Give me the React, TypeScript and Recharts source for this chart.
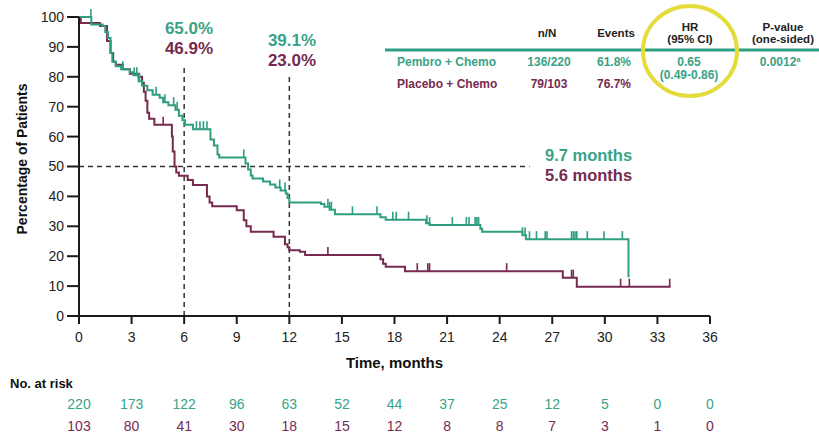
import React from 'react';
import { ComposedChart, Line, Scatter, XAxis, YAxis, ReferenceLine } from 'recharts';

const GREEN = '#2f9e80';
const GREEN_TEXT = '#38a386';
const MAROON = '#762a50';
const FONT = "'Liberation Sans', Arial, Helvetica, sans-serif";
const NARROW = "'Liberation Sans Narrow', 'Arial Narrow', 'Liberation Sans', Arial, sans-serif";

const xTicks = [0, 3, 6, 9, 12, 15, 18, 21, 24, 27, 30, 33, 36];
const yTicks = [0, 10, 20, 30, 40, 50, 60, 70, 80, 90, 100];

const pembroTime = [0, 0.7, 1.35, 1.5, 1.65, 1.8, 1.9, 2.1, 2.4, 2.9, 3.1, 3.4, 3.6, 3.9, 4.2, 4.6, 4.8, 5.1, 5.5, 5.7, 5.9, 6.05, 6.5, 7.5, 7.7, 7.9, 8.0, 9.5, 9.65, 9.8, 9.9, 10.5, 10.9, 11.2, 11.5, 11.8, 11.9, 12.0, 13.8, 14.0, 14.3, 14.6, 17.2, 17.5, 19.8, 20.0, 22.9, 23.0, 25.3, 25.5, 31.35];
const pembroSurv = [100, 97.5, 97, 95, 93, 88, 85, 83.5, 82.5, 81.5, 80.5, 78.5, 77, 75.5, 74, 73, 71.5, 70.5, 69, 67, 65.5, 64, 62.5, 59, 57, 54, 53, 51, 49, 47, 46, 45, 44, 43, 42, 41, 39.5, 38, 37.5, 36.5, 35.5, 34, 33, 32.2, 31, 30.4, 29.2, 28.2, 27, 25.7, 13];

const placeboTime = [0, 0.1, 1.2, 1.6, 1.8, 1.95, 2.1, 2.5, 2.9, 3.4, 3.6, 3.7, 3.8, 3.9, 4.0, 4.3, 5.3, 5.35, 5.45, 5.55, 5.7, 6.2, 6.5, 7.3, 7.45, 7.6, 9.0, 9.4, 9.55, 9.8, 11.1, 11.75, 11.9, 12.0, 12.6, 12.9, 17.2, 17.35, 17.5, 18.6, 27.6, 28.4, 33.75];
const placeboSurv = [100, 98, 97, 92, 88, 85, 84, 82.5, 81, 80, 78, 75, 72, 68, 66, 64, 60, 55, 50, 48, 46.9, 45.5, 43.8, 40, 38, 36.7, 35.4, 32, 30, 28.2, 26.5, 24, 23, 22, 21.5, 20.4, 19, 17.5, 16.5, 15, 12.8, 9.8, 9.8];

const pembroCensor = [0.68, 2.5, 3.15, 3.3, 3.45, 4.4, 4.9, 5.4, 5.6, 6.7, 6.9, 7.1, 7.3, 9.4, 11.45, 11.75, 14.2, 14.3, 14.4, 15.6, 17.0, 17.9, 18.1, 18.8, 19.85, 20.0, 21.3, 22.1, 22.25, 22.6, 22.7, 22.8, 25.3, 25.45, 25.7, 26.1, 26.6, 26.7, 28.1, 28.2, 28.3, 28.4, 29.0, 29.95, 31.0];
const placeboCensor = [4.8, 14.2, 19.3, 19.9, 20.0, 24.4, 28.1, 28.2, 30.9, 31.4, 33.7];

const riskPembro = [220, 173, 122, 96, 63, 52, 44, 37, 25, 12, 5, 0, 0];
const riskPlacebo = [103, 80, 41, 30, 18, 15, 12, 8, 8, 7, 3, 1, 0];

const toSeries = (t: number[], s: number[]) => t.map((x, i) => ({ t: x, s: s[i] }));
const survAt = (t: number[], s: number[], x: number) => {
  let v = s[0];
  for (let i = 0; i < t.length; i++) if (t[i] <= x) v = s[i];
  return v;
};
const censorSeries = (c: number[], t: number[], s: number[]) => c.map((x) => ({ t: x, s: survAt(t, s, x) }));

const pembroData = toSeries(pembroTime, pembroSurv);
const placeboData = toSeries(placeboTime, placeboSurv);
const pembroCensorData = censorSeries(pembroCensor, pembroTime, pembroSurv);
const placeboCensorData = censorSeries(placeboCensor, placeboTime, placeboSurv);

const censorShape = (color: string) => (props: any) => {
  const { cx, cy } = props;
  if (cx == null || cy == null) return <g />;
  return <line x1={cx} x2={cx} y1={cy} y2={cy - 8} stroke={color} strokeWidth={1.6} />;
};

const axisStroke = { stroke: '#1a1a1a', strokeWidth: 2 };

export default function App() {
  return (
    <div style={{ position: 'absolute', left: 0, top: 0, width: 819, height: 436, background: '#fff', fontFamily: FONT }}>
      <ComposedChart width={819} height={436} margin={{ top: 17, right: 109, bottom: 2, left: 0 }}>
        <XAxis
          xAxisId={0}
          dataKey="t"
          type="number"
          domain={[0, 36]}
          ticks={xTicks}
          interval={0}
          allowDataOverflow
          height={70}
          tickSize={8}
          tickMargin={8}
          axisLine={axisStroke}
          tickLine={axisStroke}
          tick={{ fontSize: 14, fill: '#222' }}
          label={{ value: 'Time, months', position: 'insideBottom', offset: 18, style: { fontSize: 15, fontWeight: 700, fill: '#111' } }}
        />
        <XAxis
          xAxisId="riskA"
          dataKey="t"
          type="number"
          domain={[0, 36]}
          ticks={xTicks}
          interval={0}
          allowDataOverflow
          height={24}
          tickSize={0}
          tickMargin={13}
          axisLine={false}
          tickLine={false}
          tickFormatter={(v: number) => String(riskPembro[xTicks.indexOf(v)])}
          tick={{ fontSize: 14, fill: GREEN_TEXT, fontFamily: NARROW }}
        />
        <XAxis
          xAxisId="riskB"
          dataKey="t"
          type="number"
          domain={[0, 36]}
          ticks={xTicks}
          interval={0}
          allowDataOverflow
          height={24}
          tickSize={0}
          tickMargin={11}
          axisLine={false}
          tickLine={false}
          tickFormatter={(v: number) => String(riskPlacebo[xTicks.indexOf(v)])}
          tick={{ fontSize: 14, fill: MAROON, fontFamily: NARROW }}
        />
        <YAxis
          type="number"
          domain={[0, 100]}
          ticks={yTicks}
          interval={0}
          width={79}
          tickSize={12}
          tickMargin={3}
          axisLine={axisStroke}
          tickLine={axisStroke}
          tick={{ fontSize: 14, fill: '#222' }}
        />
        <ReferenceLine segment={[{ x: 6, y: 0 }, { x: 6, y: 83.5 }]} stroke="#333" strokeWidth={1.5} strokeDasharray="5 4" />
        <ReferenceLine segment={[{ x: 12, y: 0 }, { x: 12, y: 80.5 }]} stroke="#333" strokeWidth={1.5} strokeDasharray="5 4" />
        <ReferenceLine segment={[{ x: 0, y: 50 }, { x: 25.7, y: 50 }]} stroke="#333" strokeWidth={1.5} strokeDasharray="5 4" />
        <Line data={placeboData} dataKey="s" type="stepAfter" stroke={MAROON} strokeWidth={2} dot={false} isAnimationActive={false} />
        <Line data={pembroData} dataKey="s" type="stepAfter" stroke={GREEN} strokeWidth={2} dot={false} isAnimationActive={false} />
        <Scatter data={placeboCensorData} dataKey="s" shape={censorShape(MAROON)} isAnimationActive={false} />
        <Scatter data={pembroCensorData} dataKey="s" shape={censorShape(GREEN)} isAnimationActive={false} />
      </ComposedChart>
      <svg width={819} height={436} style={{ position: 'absolute', left: 0, top: 0, pointerEvents: 'none' }}>
        <text transform="translate(27,159) rotate(-90)" textAnchor="middle" fontSize={14} fontWeight={700} fill="#111">Percentage of Patients</text>
        <text x={10} y={388} fontSize={13} fontWeight={700} fill="#111" fontFamily={NARROW}>No. at risk</text>

        <g fontSize={17} fontWeight={700} textAnchor="middle">
          <text x={189} y={34} fill={GREEN_TEXT}>65.0%</text>
          <text x={189} y={54} fill={MAROON}>46.9%</text>
          <text x={292} y={46} fill={GREEN_TEXT}>39.1%</text>
          <text x={292} y={66} fill={MAROON}>23.0%</text>
        </g>
        <g fontSize={16.5} fontWeight={700}>
          <text x={545} y={161} fill={GREEN_TEXT}>9.7 months</text>
          <text x={545} y={181} fill={MAROON}>5.6 months</text>
        </g>

        <g fontSize={11.5} fontWeight={700} fill="#222" textAnchor="middle">
          <text x={547} y={37}>n/N</text>
          <text x={616} y={37}>Events</text>
          <text x={690} y={31}>HR</text>
          <text x={690} y={43}>(95% CI)</text>
          <text x={783} y={31}>P-value</text>
          <text x={783} y={43}>(one-sided)</text>
        </g>
        <line x1={385} x2={819} y1={50} y2={50} stroke={GREEN} strokeWidth={3} />
        <g fontSize={12} fontWeight={700} fill={GREEN_TEXT}>
          <text x={397} y={66}>Pembro + Chemo</text>
          <text x={549} y={66} textAnchor="middle">136/220</text>
          <text x={614} y={66} textAnchor="middle">61.8%</text>
          <text x={689} y={66} textAnchor="middle">0.65</text>
          <text x={689} y={79} textAnchor="middle">(0.49-0.86)</text>
          <text x={780} y={66} textAnchor="middle">0.0012<tspan fontSize={7} dy={-4}>a</tspan></text>
        </g>
        <g fontSize={12} fontWeight={700} fill={MAROON}>
          <text x={397} y={88}>Placebo + Chemo</text>
          <text x={549} y={88} textAnchor="middle">79/103</text>
          <text x={614} y={88} textAnchor="middle">76.7%</text>
        </g>
        <ellipse cx={690} cy={51} rx={47} ry={45} fill="none" stroke="#e3dc3c" strokeWidth={4} />
      </svg>
    </div>
  );
}
